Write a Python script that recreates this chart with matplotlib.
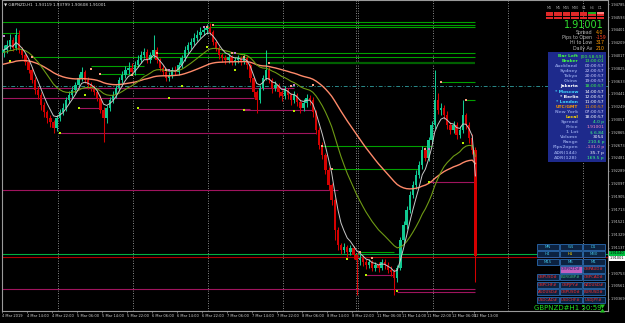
import numpy as np
import matplotlib
matplotlib.use("Agg")
import matplotlib.pyplot as plt
from matplotlib.patches import Rectangle, Polygon
from matplotlib.transforms import blended_transform_factory

# ---- price data (GBPNZD H1) ----
first_open = 1.9405
closes = [
    1.9410, 1.94175, 1.9425, 1.9413, 1.94325, 1.9410, 1.94025, 1.9392, 1.9380, 1.9365,
    1.9350, 1.93425, 1.93275, 1.9317, 1.9308, 1.9302, 1.9293, 1.9308, 1.9317, 1.9323,
    1.9335, 1.93425, 1.9350, 1.93575, 1.9368, 1.9377, 1.9365, 1.93575, 1.9353, 1.9347,
    1.9338, 1.9320, 1.9308, 1.9323, 1.9335, 1.93425, 1.9353, 1.9365, 1.93725, 1.9380,
    1.9383, 1.9377, 1.93875, 1.9395, 1.94025, 1.9407, 1.9395, 1.94025, 1.9410, 1.9395,
    1.9383, 1.9377, 1.9368, 1.93725, 1.9380, 1.9377, 1.93875, 1.9398, 1.9410, 1.94175,
    1.9422, 1.9428, 1.94325, 1.9437, 1.9440, 1.9443, 1.9437, 1.9422, 1.9413, 1.94025,
    1.9398, 1.9395, 1.93995, 1.9392, 1.9395, 1.9398, 1.9392, 1.9398, 1.93875, 1.9368,
    1.9347, 1.9335, 1.9353, 1.9368, 1.9380, 1.9365, 1.9353, 1.93575, 1.9347, 1.9341,
    1.9350, 1.93425, 1.9335, 1.93425, 1.9332, 1.9323, 1.93305, 1.9338, 1.9335, 1.9317,
    1.9290, 1.92675, 1.92525, 1.9230, 1.92075, 1.9185, 1.9140, 1.91175, 1.9110, 1.91145,
    1.9107, 1.9113, 1.91025, 1.9095, 1.9098, 1.9092, 1.90875, 1.9092, 1.9083, 1.90875,
    1.9083, 1.9092, 1.90875, 1.9080, 1.9077, 1.9068, 1.9083, 1.9125, 1.91475, 1.9170,
    1.91925, 1.92075, 1.92225, 1.92375, 1.9260, 1.9248, 1.9275, 1.92975, 1.9335, 1.9320,
    1.9323, 1.93125, 1.92975, 1.9290, 1.92975, 1.92825, 1.9290, 1.93125, 1.92975, 1.9278,
    1.9260, 1.9101,
]
highs = [
    1.9418, 1.9425, 1.9434, 1.9430, 1.9443, 1.9440, 1.9415, 1.9406, 1.9396, 1.9384,
    1.9370, 1.9356, 1.9347, 1.9332, 1.9320, 1.9312, 1.9305, 1.9312, 1.9322, 1.9330,
    1.9340, 1.9348, 1.9356, 1.9362, 1.9374, 1.9385, 1.9380, 1.9369, 1.9362, 1.9357,
    1.9350, 1.9342, 1.9324, 1.9327, 1.9340, 1.9348, 1.9358, 1.9370, 1.9378, 1.9386,
    1.9392, 1.9390, 1.9393, 1.9402, 1.9408, 1.9413, 1.9411, 1.9407, 1.9433, 1.9414,
    1.9398, 1.9388, 1.9380, 1.9377, 1.9385, 1.9386, 1.9392, 1.9403, 1.9416, 1.9422,
    1.9428, 1.9436, 1.9440, 1.9444, 1.9446, 1.9449, 1.9450, 1.9440, 1.9425, 1.9416,
    1.9406, 1.9402, 1.9404, 1.9403, 1.9400, 1.9403, 1.9401, 1.9404, 1.9401, 1.9390,
    1.9370, 1.9350, 1.9358, 1.9373, 1.9410, 1.9384, 1.9368, 1.9363, 1.9360, 1.9350,
    1.9356, 1.9353, 1.9346, 1.9348, 1.9345, 1.9336, 1.9336, 1.9344, 1.9342, 1.9339,
    1.9320, 1.9295, 1.9272, 1.9256, 1.9234, 1.9210, 1.9188, 1.9145, 1.9120, 1.9120,
    1.9118, 1.9118, 1.9116, 1.9106, 1.9104, 1.9102, 1.9096, 1.9097, 1.9095, 1.9092,
    1.9092, 1.9097, 1.9096, 1.9092, 1.9086, 1.9082, 1.9088, 1.9130, 1.9153, 1.9176,
    1.9198, 1.9214, 1.9230, 1.9244, 1.9266, 1.9265, 1.9280, 1.9303, 1.9380, 1.9345,
    1.9330, 1.9328, 1.9318, 1.9302, 1.9303, 1.9302, 1.9296, 1.9335, 1.9316, 1.9302,
    1.9284, 1.9265,
]
lows = [
    1.9400, 1.9406, 1.9412, 1.9408, 1.9410, 1.9405, 1.9398, 1.9388, 1.9375, 1.9360,
    1.9344, 1.9336, 1.9320, 1.9310, 1.9300, 1.9295, 1.9285, 1.9288, 1.9304, 1.9313,
    1.9319, 1.9330, 1.9338, 1.9346, 1.9354, 1.9364, 1.9360, 1.9352, 1.9348, 1.9342,
    1.9333, 1.9315, 1.9272, 1.9300, 1.9318, 1.9330, 1.9338, 1.9348, 1.9360, 1.9368,
    1.9374, 1.9372, 1.9372, 1.9384, 1.9390, 1.9398, 1.9390, 1.9390, 1.9398, 1.9390,
    1.9378, 1.9372, 1.9363, 1.9364, 1.9368, 1.9372, 1.9372, 1.9383, 1.9394, 1.9405,
    1.9412, 1.9417, 1.9424, 1.9428, 1.9432, 1.9434, 1.9432, 1.9417, 1.9408, 1.9397,
    1.9392, 1.9389, 1.9390, 1.9387, 1.9388, 1.9390, 1.9387, 1.9389, 1.9382, 1.9362,
    1.9340, 1.93155, 1.9330, 1.9350, 1.9365, 1.9360, 1.9346, 1.9348, 1.9340, 1.9334,
    1.9336, 1.9337, 1.9328, 1.9331, 1.9326, 1.9316, 1.9318, 1.9325, 1.9328, 1.9310,
    1.9284, 1.9262, 1.9246, 1.9224, 1.9200, 1.9178, 1.9125, 1.9110, 1.9104, 1.9105,
    1.9100, 1.9102, 1.9096, 1.90425, 1.9088, 1.9086, 1.9082, 1.9083, 1.9078, 1.9079,
    1.9077, 1.9080, 1.9082, 1.9075, 1.9071, 1.90425, 1.9062, 1.9080, 1.9120, 1.9142,
    1.9165, 1.9188, 1.9202, 1.9218, 1.9232, 1.9243, 1.9244, 1.9270, 1.9292, 1.9314,
    1.9312, 1.9306, 1.9292, 1.9284, 1.9286, 1.9277, 1.9278, 1.9285, 1.9292, 1.9270,
    1.9254, 1.9062,
]

# moving averages start values at the first bar
ma_fast_seed, ma_mid_seed, ma_slow_seed = 1.9410, 1.9406, 1.9388

# fractal style dots
hi_dot_idx = [9, 28, 31, 41, 49, 52, 65, 67, 73, 77, 85, 92, 99, 102, 105, 114, 118, 135, 140, 148]
hi_dot_val = [1.93995, 1.93815, 1.9374, 1.93725, 1.94055, 1.9380, 1.94445, 1.94475, 1.94055, 1.93995,
              1.93905, 1.9356, 1.93575, 1.9266, 1.92315, 1.9107, 1.9098, 1.92615, 1.9362, 1.9335]
pu_dot_idx = [0, 53, 64, 74, 93, 136]
pu_dot_val = [1.9431, 1.9380, 1.94445, 1.94055, 1.93575, 1.92615]
lo_dot_idx = [2, 18, 24, 26, 43, 53, 57, 65, 74, 77, 93, 110, 116, 126, 136, 147]
lo_dot_val = [1.93935, 1.92855, 1.9323, 1.93425, 1.9323, 1.9338, 1.9356, 1.94145, 1.9380, 1.9320,
              1.93185, 1.90965, 1.90725, 1.90485, 1.9212, 1.92705]

# support / resistance segments: (price, first bar, last bar)
res_lines = [(1.9452, -1, 151), (1.94475, 67, 151), (1.94445, 65, 151), (1.94355, -1, 5),
             (1.94055, 49, 151), (1.93995, 9, 151), (1.9386, 28, 45), (1.9374, 31, 45),
             (1.9362, 140, 151), (1.9335, 148, 151), (1.9266, 102, 137), (1.92315, 105, 133),
             (1.9107, 114, 125)]
res_thick = (1.93905, 85, 151)
sup_lines = [(1.9353, -1, 93), (1.9338, -1, 80), (1.9323, 24, 31), (1.93215, 43, 79),
             (1.9320, 77, 99), (1.92855, 18, 100), (1.9200, -1, 107), (1.9212, 136, 151),
             (1.90725, 116, 125), (1.90515, -1, 151), (1.9047, 126, 151)]
bid_line, ask_line, pivot_line = 1.91040, 1.90995, 1.9356
day_seps = [18, 42, 66, 90, 113.3, 114, 138, 162, 186]

time_pos = [0, 8, 16, 24, 32, 40, 48, 56, 64, 72, 80, 88, 96, 104, 112, 120, 128, 136, 144, 151]
time_labels = ["4 Mar 2019", "4 Mar 14:00", "4 Mar 22:00", "5 Mar 06:00", "5 Mar 14:00",
               "5 Mar 22:00", "6 Mar 06:00", "6 Mar 14:00", "6 Mar 22:00", "7 Mar 06:00",
               "7 Mar 14:00", "7 Mar 22:00", "8 Mar 06:00", "8 Mar 14:00", "8 Mar 22:00",
               "11 Mar 06:00", "11 Mar 14:00", "11 Mar 22:00", "12 Mar 06:00", "12 Mar 13:00"]
price_ticks = [1.94785, 1.94593, 1.94401, 1.94209, 1.94017, 1.93825, 1.93633, 1.93441,
               1.93249, 1.93057, 1.92865, 1.92673, 1.92481, 1.92289, 1.92097, 1.91905,
               1.91713, 1.91521, 1.91329, 1.91137, 1.90753, 1.90561, 1.90369]


def ema(values, span, seed):
    a = 2.0 / (span + 1)
    out, prev = [], seed
    for v in values:
        prev = prev + a * (v - prev)
        out.append(prev)
    return out


n = len(closes)
idx = np.arange(n)
opens = [first_open] + closes[:-1]
bull = np.array(closes) >= np.array(opens)
up_col, dn_col = "#10c890", "#d40000"
cols = [up_col if b else dn_col for b in bull]

fig = plt.figure(figsize=(6.25, 3.23), dpi=100, facecolor="black")
ax = fig.add_axes([2 / 625, 12 / 323, 606 / 625, 311 / 323])
ax.set_facecolor("black")
ax.set_xlim(-0.48, 193.44)
ax.set_ylim(1.90185, 1.9485)

# period separators
for d in day_seps:
    ax.axvline(d - 0.48, color="#b8b8b8", lw=0.6, ls=(0, (1, 2)), zorder=1)

# horizontal levels
for p, a, b in res_lines:
    ax.hlines(p, a, b, color="#00a000", lw=0.8, zorder=2)
ax.hlines(res_thick[0], res_thick[1], res_thick[2], color="#006000", lw=1.6, zorder=2)
for p, a, b in sup_lines:
    ax.hlines(p, a, b, color="#a0145e", lw=0.8, zorder=2)
ax.axhline(pivot_line, color="#2a8a8a", lw=0.7, ls=(0, (4, 2, 1, 2)), zorder=2)
ax.axhline(bid_line, color="#00b040", lw=0.8, zorder=2)
ax.axhline(ask_line, color="#b00000", lw=0.8, zorder=2)

# candles
body_lo = np.minimum(opens, closes)
body_h = np.maximum(np.abs(np.array(closes) - np.array(opens)), 0.00008)
ax.vlines(idx, lows, highs, colors=cols, lw=0.75, zorder=3)
ax.bar(idx, body_h, bottom=body_lo, width=0.74, color=cols, linewidth=0, zorder=4)

# moving averages
ax.plot(idx, ema(closes, 55, ma_slow_seed), color="#ff8a6a", lw=1.0, zorder=5)
ax.plot(idx, ema(closes, 20, ma_mid_seed), color="#6e9a14", lw=0.8, zorder=5)
ax.plot(idx, ema(closes, 5, ma_fast_seed), color="#c8c8c8", lw=0.7, zorder=5)

# dots
ax.scatter(hi_dot_idx, hi_dot_val, s=3.5, marker="s", color="#ffa080", linewidths=0, zorder=6)
ax.scatter(pu_dot_idx, pu_dot_val, s=3.5, marker="s", color="#c080d0", linewidths=0, zorder=6)
ax.scatter(lo_dot_idx, lo_dot_val, s=3.5, marker="s", color="#b8f000", linewidths=0, zorder=6)

# axes styling
for s in ax.spines.values():
    s.set_color("#9a9a9a")
    s.set_linewidth(0.8)
ax.yaxis.tick_right()
ax.set_yticks(price_ticks)
ax.set_yticklabels([f"{p:.5f}" for p in price_ticks])
ax.set_xticks([t - 0.48 for t in time_pos])
ax.set_xticklabels(time_labels)
for lbl in ax.get_xticklabels():
    lbl.set_horizontalalignment("left")
ax.tick_params(axis="x", colors="#9a9a9a", labelcolor="#d0d0d0", labelsize=2.6,
               length=1.5, width=0.5, pad=1)
ax.tick_params(axis="y", colors="#9a9a9a", labelcolor="#d0d0d0", labelsize=2.5,
               length=1.0, width=0.5, pad=0.6)

tr = blended_transform_factory(ax.transAxes, ax.transData)
ax.text(1.003, bid_line + 0.00012, "1.91040", transform=tr, fontsize=2.5, color="black",
        va="center", bbox=dict(boxstyle="square,pad=0.1", fc="#00c040", ec="none"), zorder=8)
ax.text(1.003, ask_line - 0.00022, "1.91001", transform=tr, fontsize=2.5, color="black",
        va="center", bbox=dict(boxstyle="square,pad=0.1", fc="white", ec="none"), zorder=8)

# ---- overlay in pixel coordinates for the info panels ----
ov = fig.add_axes([0, 0, 1, 1], zorder=10)
ov.set_xlim(0, 625)
ov.set_ylim(323, 0)
ov.axis("off")
ov.patch.set_alpha(0)

ov.text(4, 5, "\u25bc GBPNZD,H1  1.93119 1.93799 1.90608 1.91001", fontsize=3.0,
        color="#e0e0e0", va="center")

# strength grid
tf_head = ["M1", "M5", "M15", "M30", "H1", "H4", "D1"]
for k, t in enumerate(tf_head):
    ov.text(549.5 + k * 8.5, 8.3, t, fontsize=2.4, color="#a0a0a0", ha="center", va="center")
grid_green = {(0, 5)}
for r in range(3):
    for k in range(7):
        c = "#20b020" if (r, k) in grid_green else "#e02828"
        if (r, k) == (0, 6):
            c = "#ff8080"
        ov.add_patch(Rectangle((545.5 + k * 8.5, 11.5 + r * 2.7), 7.8, 2.0, color=c, lw=0))

ov.text(604, 25, "1.91001", fontsize=7, color="#30e030", ha="right", va="center")
stats = [("Spread", "4.0", "#ff9900"), ("Pips to Open", "-159", "#ff4020"),
         ("Hi to Low", "317", "#ff9900"), ("Daily Av", "210", "#ff9900")]
for k, (lab, val, vc) in enumerate(stats):
    y = 32.5 + k * 5.2
    ov.text(592, y, lab, fontsize=3.4, color="#b8b8b8", ha="right", va="center")
    ov.text(596, y, val, fontsize=3.4, color=vc, ha="left", va="center")

ov.add_patch(Rectangle((548, 51.5), 58, 110.5, color="#1e2a8c", lw=0))
rows = [("Bar Left", "[00:58:59]", "#40ff40", "#40ff40"),
        ("Broker", "13:00:01", "#40ff40", "#40ff40"),
        ("Auckland", "00:00:57", "#8090d8", "#d0d0ff"),
        ("Sydney", "22:00:57", "#8090d8", "#d0d0ff"),
        ("Tokyo", "20:00:57", "#8090d8", "#d0d0ff"),
        ("China", "19:00:57", "#8090d8", "#d0d0ff"),
        ("Jakarta", "18:00:57", "#ffffff", "#40ff40"),
        ("* Moscow", "14:00:57", "#40d8ff", "#ffffff"),
        ("* Berlin", "12:00:57", "#ffffff", "#ffffff"),
        ("* London", "11:00:57", "#40d8ff", "#ffffff"),
        ("UTC/GMT", "11:00:57", "#ff9900", "#ff9900"),
        ("New York", "07:00:57", "#8090d8", "#d0d0ff"),
        ("Local", "18:00:57", "#ffd700", "#ffffff"),
        ("Spread", "4.0 p", "#8090d8", "#40ff80"),
        ("Price", "1.91001", "#8090d8", "#ff90c0"),
        ("1 Lot", "$ 6.84", "#8090d8", "#40ff80"),
        ("Volume", "3054", "#8090d8", "#ffffff"),
        ("Range", "210.6 p", "#8090d8", "#40ff80"),
        ("Pips2open", "-131.0 p", "#8090d8", "#ff90c0"),
        ("ADR(144)", "35.7 p", "#8090d8", "#ffffff"),
        ("ADR(128)", "169.5 p", "#8090d8", "#40ff80")]
for k, (lab, val, lc, vc) in enumerate(rows):
    y = 56 + k * 5.08
    ov.text(578, y, lab, fontsize=3.2, color=lc, ha="right", va="center", fontweight="bold")
    ov.text(604, y, val, fontsize=3.2, color=vc, ha="right", va="center")

# buttons
buttons = [["MN", "W1", "D1"], ["H4", "H1", "M30"], ["M15", "M5", "M1"],
           ["", "GBPNZD#", "GBPAUD#"], ["GBPUSD#", "EURGBP#", "GBPCAD#"],
           ["GBPCHF#", "GBPJPY#", "NZDUSD#"], ["AUDUSD#", "GBPUSD#", "EURUSD#"],
           ["USDCAD#", "USDCHF#", "USDJPY#"]]
col_x = [537, 560, 583]
for r, row in enumerate(buttons):
    y0 = 243.5 + r * 7.6
    for c, lab in enumerate(row):
        if not lab:
            continue
        fc, tc = "#0c2240", "#40c0e0"
        if r >= 3:
            tc = "#ff3030"
        if lab == "H1":
            tc = "#ffd700"
        if lab == "GBPNZD#":
            fc, tc = "#c060c0", "#1e1e60"
        if lab == "EURGBP#":
            tc = "#40c080"
        ov.add_patch(Rectangle((col_x[c], y0), 21.5, 6.2, fc=fc, ec="#2a6ab0", lw=0.6))
        ov.text(col_x[c] + 10.75, y0 + 3.2, lab, fontsize=2.8, color=tc, ha="center", va="center")

ov.text(568, 308.5, "GBPNZD#H1 50:59", fontsize=5, color="#20e020", ha="center", va="center")
ov.add_patch(Polygon([(600, 304.5), (605, 304.5), (602.5, 308.5)], color="#20c020", lw=0))
ov.add_patch(Polygon([(600, 312.5), (605, 312.5), (602.5, 308.5)], color="#20c020", lw=0))

fig.savefig("out.png", dpi=100, facecolor="black")
